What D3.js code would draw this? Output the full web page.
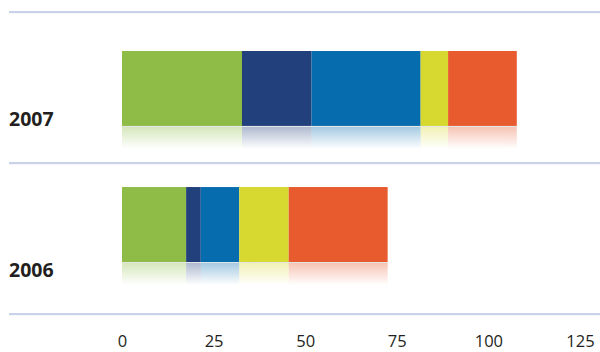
<!DOCTYPE html>
<html>
<head>
<meta charset="utf-8">
<script src="https://cdn.jsdelivr.net/npm/d3@7"></script>
<style>
  html, body { margin: 0; padding: 0; background: #fff; }
  svg { display: block; }
</style>
</head>
<body>
<svg id="chart" width="600" height="352"></svg>
<script>
// Years, one stacked bar each
const years = ["2007", "2006"];
// Segment keys and colours, left to right
const seriesKeys = ["s1", "s2", "s3", "s4", "s5"];
const seriesColors = ["#8fbc46", "#22407c", "#066cae", "#d7d931", "#e85b2e"];
// Segment values per year
const s1 = [32.75, 17.5];
const s2 = [19, 4];
const s3 = [29.75, 10.5];
const s4 = [7.5, 13.5];
const s5 = [18.75, 27];
// Axis ticks
const tickValues = [0, 25, 50, 75, 100, 125];

const rows = years.map((y, i) => ({
  year: y, s1: s1[i], s2: s2[i], s3: s3[i], s4: s4[i], s5: s5[i]
}));

const svg = d3.select("#chart");
const font = "'Open Sans', 'Noto Sans', sans-serif";

const x = d3.scaleLinear().domain([0, 125]).range([122, 580]);
const yBar = d3.scaleBand().domain(years).range([51, 262]).paddingInner(0.449).paddingOuter(0);
const color = d3.scaleOrdinal().domain(seriesKeys).range(seriesColors);

// Row separators and row label positions
const rowEdges = [12, 163, 314];
svg.append("g").selectAll("rect")
  .data(rowEdges)
  .join("rect")
  .attr("x", 9).attr("width", 591)
  .attr("y", d => d - 1).attr("height", 2.2)
  .attr("fill", "#c9d2e8");

const stack = d3.stack().keys(seriesKeys)(rows);

// Reflection gradients
const defs = svg.append("defs");
seriesKeys.forEach(k => {
  const g = defs.append("linearGradient")
    .attr("id", "refl-" + k)
    .attr("x1", 0).attr("y1", 0).attr("x2", 0).attr("y2", 1);
  g.append("stop").attr("offset", "0%").attr("stop-color", color(k)).attr("stop-opacity", 0.36);
  g.append("stop").attr("offset", "100%").attr("stop-color", color(k)).attr("stop-opacity", 0);
});

const layers = svg.append("g").selectAll("g")
  .data(stack)
  .join("g");

// Bars
layers.selectAll("rect.bar")
  .data(d => d.map(p => ({ p, key: d.key })))
  .join("rect")
  .attr("class", "bar")
  .attr("x", d => x(d.p[0]))
  .attr("width", d => x(d.p[1]) - x(d.p[0]))
  .attr("y", d => yBar(d.p.data.year))
  .attr("height", yBar.bandwidth())
  .attr("fill", d => color(d.key));

// Mirrored reflections beneath each bar
const reflH = 22;
layers.selectAll("rect.refl")
  .data(d => d.map(p => ({ p, key: d.key })))
  .join("rect")
  .attr("class", "refl")
  .attr("x", d => x(d.p[0]))
  .attr("width", d => x(d.p[1]) - x(d.p[0]))
  .attr("y", d => yBar(d.p.data.year) + yBar.bandwidth() + 1)
  .attr("height", reflH)
  .attr("fill", d => "url(#refl-" + d.key + ")");

// Thin floor line under each bar
svg.append("g").selectAll("rect")
  .data(rows)
  .join("rect")
  .attr("x", x(0))
  .attr("width", d => x(seriesKeys.reduce((s, k) => s + d[k], 0)) - x(0))
  .attr("y", d => yBar(d.year) + yBar.bandwidth())
  .attr("height", 1)
  .attr("fill", "#e2e4e6");

// Year labels, sitting at the bottom of each row
svg.append("g").selectAll("text")
  .data(years)
  .join("text")
  .attr("x", 9)
  .attr("y", (d, i) => rowEdges[i + 1] - 37)
  .attr("font-family", font)
  .attr("font-weight", "bold")
  .attr("font-size", 19.5)
  .attr("fill", "#231f20")
  .text(d => d);

// Value axis
const axis = d3.axisBottom(x).tickValues(tickValues).tickSize(0).tickPadding(0);
const ax = svg.append("g")
  .attr("transform", "translate(0,347)")
  .call(axis);
ax.select(".domain").remove();
ax.selectAll("text")
  .attr("font-family", font)
  .attr("font-size", 16.5)
  .attr("fill", "#231f20")
  .attr("dy", 0);
</script>
</body>
</html>
